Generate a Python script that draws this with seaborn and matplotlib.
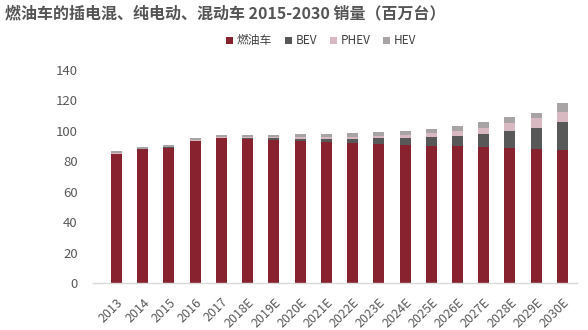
import numpy as np
import pandas as pd
import matplotlib
matplotlib.use("Agg")
import matplotlib.pyplot as plt
import seaborn as sns
from matplotlib.patches import Patch

years = ["2013", "2014", "2015", "2016", "2017", "2018E", "2019E", "2020E", "2021E",
         "2022E", "2023E", "2024E", "2025E", "2026E", "2027E", "2028E", "2029E", "2030E"]
ice = [85, 88, 89, 93.4, 95.2, 94.7, 94.3, 93.2, 92.4, 92, 91.5, 90.8, 90.1, 89.8, 89.3, 88.6, 88, 87.5]
bev = [0.1, 0.1, 0.2, 0.2, 0.3, 0.7, 1.0, 1.6, 2.2, 2.6, 3.5, 4.5, 5.7, 7.0, 8.5, 11.4, 14.2, 18.2]
phev = [0.2, 0.2, 0.3, 0.3, 0.4, 0.6, 0.8, 1.2, 1.4, 1.6, 1.9, 2.3, 2.8, 3.2, 3.8, 5.0, 6.2, 7.0]
hev = [1.7, 1.2, 1.5, 1.1, 1.5, 1.4, 1.5, 2.0, 2.0, 2.3, 2.4, 2.6, 2.9, 3.3, 4.3, 3.8, 3.6, 5.3]
series_names = ["燃油车", "BEV", "PHEV", "HEV"]
yticks = [0, 20, 40, 60, 80, 100, 120, 140]

colors = ["#87222e", "#585858", "#d8b9c1", "#a8a4a5"]

sns.set_theme(style="white")
plt.rcParams["font.family"] = ["Noto Sans CJK SC", "DejaVu Sans"]

fig = plt.figure(figsize=(5.88, 3.3), dpi=100)
ax = fig.add_axes([0.158, 0.142, 0.823, 0.646])

series = [ice, bev, phev, hev]
bottom = np.zeros(len(years))
for name, vals, col in zip(series_names, series, colors):
    df = pd.DataFrame({"year": years, "value": vals})
    sns.barplot(data=df, x="year", y="value", order=years, color=col, width=0.42,
                bottom=bottom.copy(), ax=ax, linewidth=0, errorbar=None, saturation=1)
    bottom = bottom + np.array(vals)

ax.set_ylim(0, 140)
ax.set_xlim(-0.9, len(years) - 0.45)
ax.set_yticks(yticks)
ax.set_yticklabels([str(t) for t in yticks], fontsize=9.5, color="#595959")
ax.set_xlabel("")
ax.set_ylabel("")
plt.setp(ax.get_xticklabels(), rotation=45, ha="right", rotation_mode="anchor",
         fontsize=9, color="#595959")
ax.tick_params(axis="y", length=0, pad=11)
ax.tick_params(axis="x", length=0, pad=9)
for s in ["top", "right", "left"]:
    ax.spines[s].set_visible(False)
ax.spines["bottom"].set_color("#d9d9d9")
ax.spines["bottom"].set_linewidth(1)

handles = [Patch(facecolor=c, edgecolor="none") for c in colors]
fig.legend(handles, series_names, loc="center", bbox_to_anchor=(0.546, 0.876), ncol=4,
           frameon=False, fontsize=8.5, handlelength=0.6, handleheight=0.6,
           handletextpad=0.3, columnspacing=1.1, labelcolor="#404040")

fig.text(0.008, 0.96, "燃油车的插电混、纯电动、混动车 2015-2030 销量（百万台）",
         fontsize=11.5, fontweight="bold", color="#555555", ha="left", va="center")

fig.savefig("out.png", dpi=100)
